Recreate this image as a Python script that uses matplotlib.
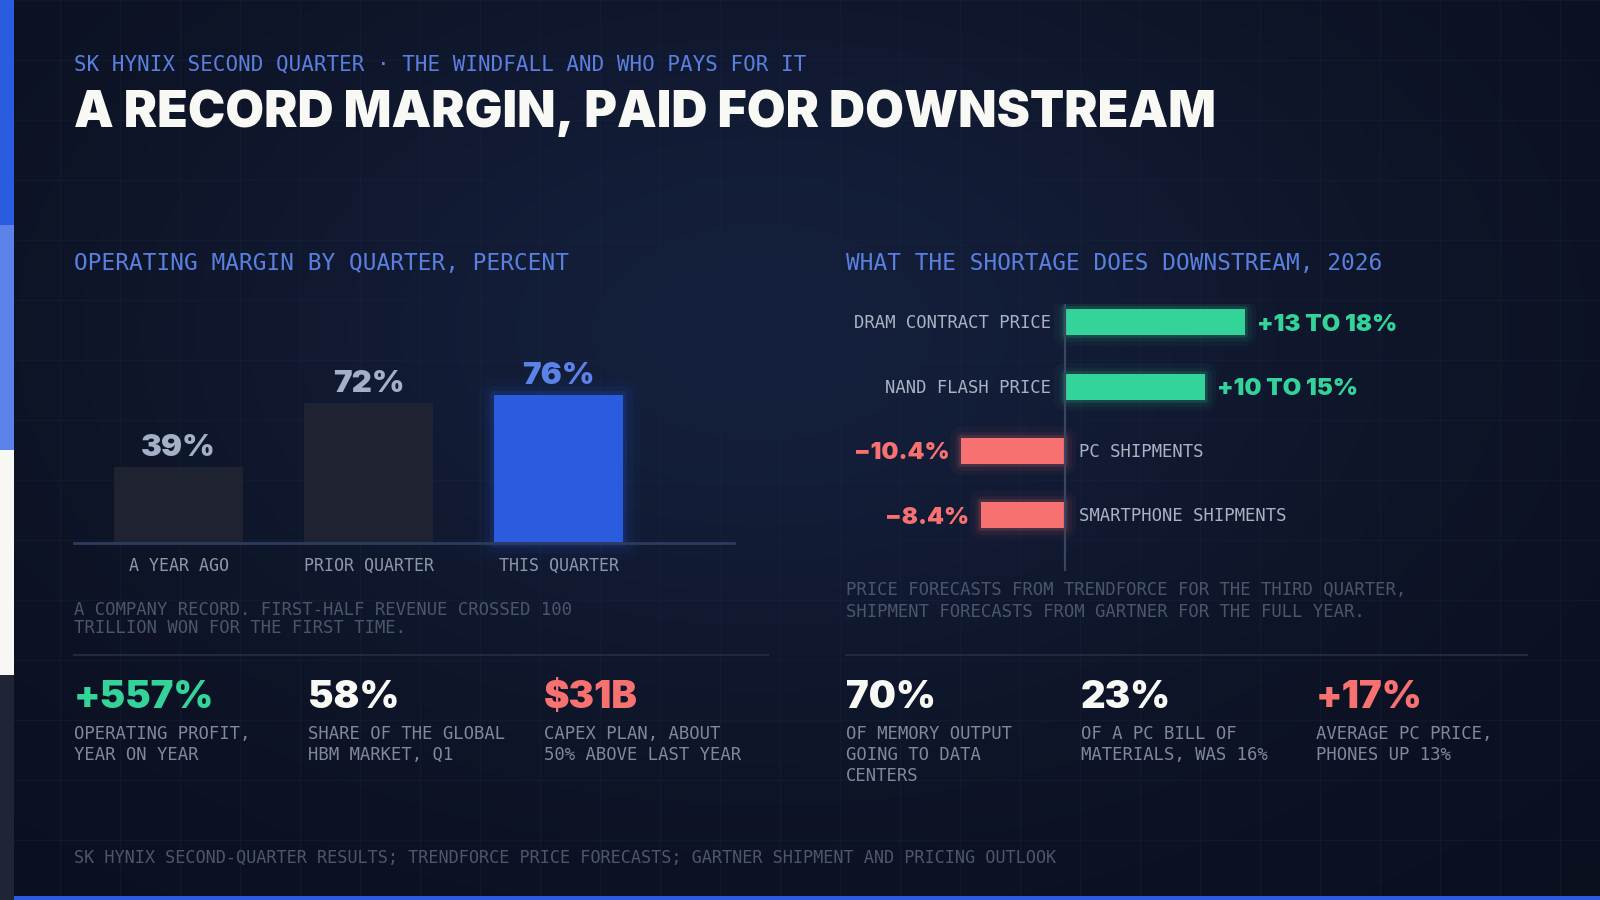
import matplotlib
matplotlib.use('Agg')
import matplotlib.pyplot as plt
import matplotlib.patheffects as pe
from matplotlib.patches import Rectangle
import numpy as np

# Canvas is laid out in pixels (1600 x 900)
W, H = 1600, 900
MONO = ['DejaVu Sans Mono']
HEAVY = ['Inter', 'DejaVu Sans']

# Data
quarters = ['A YEAR AGO', 'PRIOR QUARTER', 'THIS QUARTER']
margin_pct = [39, 72, 76]
margin_labels = ['39%', '72%', '76%']

items = ['DRAM CONTRACT PRICE', 'NAND FLASH PRICE', 'PC SHIPMENTS', 'SMARTPHONE SHIPMENTS']
item_values = [18, 14, -10.4, -8.4]
item_labels = ['+13 TO 18%', '+10 TO 15%', '\u221210.4%', '\u22128.4%']

stat_values = ['+557%', '58%', '$31B', '70%', '23%', '+17%']
stat_captions = [
    ['OPERATING PROFIT,', 'YEAR ON YEAR'],
    ['SHARE OF THE GLOBAL', 'HBM MARKET, Q1'],
    ['CAPEX PLAN, ABOUT', '50% ABOVE LAST YEAR'],
    ['OF MEMORY OUTPUT', 'GOING TO DATA', 'CENTERS'],
    ['OF A PC BILL OF', 'MATERIALS, WAS 16%'],
    ['AVERAGE PC PRICE,', 'PHONES UP 13%'],
]

# Colours
BLUE = '#2b5ce0'
BLUE_LIGHT = '#5b82e8'
ACCENT = '#5a7fdf'
GREEN = '#34d399'
RED = '#f87171'
WHITE = '#f8f8f4'
BAR_DARK = '#1e2231'
stat_colors = [GREEN, WHITE, RED, WHITE, WHITE, RED]

SMALL = 12.4  # small mono text, pt


def px_axes(fig, x0, y0, x1, y1):
    """Axes placed by pixel box (top-left origin)."""
    return fig.add_axes([x0 / W, 1 - y1 / H, (x1 - x0) / W, (y1 - y0) / H])


fig = plt.figure(figsize=(16, 9), dpi=100)

# Background layer
bg = fig.add_axes([0, 0, 1, 1])
bg.set_xlim(0, W)
bg.set_ylim(H, 0)
bg.axis('off')

yy, xx = np.mgrid[0:H:4, 0:W:4]
dark = np.array([0x0b, 0x10, 0x1f]) / 255
light = np.array([0x14, 0x1f, 0x3b]) / 255
d2 = ((xx - 760) / 820.0) ** 2 + ((yy - 330) / 520.0) ** 2
w = np.exp(-d2 * 1.6)[..., None]
grad = dark + (light - dark) * w
bg.imshow(grad, extent=(0, W, H, 0), aspect='auto', zorder=0)

for gx in range(0, W + 1, 60):
    bg.axvline(gx, color='#1b2640', lw=1, alpha=0.35, zorder=1)
for gy in range(0, H + 1, 60):
    bg.axhline(gy, color='#1b2640', lw=1, alpha=0.35, zorder=1)

# Left colour strip and bottom rule
strip_colors = [BLUE, BLUE_LIGHT, '#f7f7f3', '#1f2535']
for i, c in enumerate(strip_colors):
    bg.add_patch(Rectangle((0, i * 225), 14, 225, color=c, lw=0, zorder=2))
bg.add_patch(Rectangle((14, 896), W - 14, 4, color=BLUE, lw=0, zorder=2))


def txt(x, y, s, size, color, family=MONO, weight='normal', **kw):
    return bg.text(x, y, s, fontsize=size, color=color, family=family,
                   weight=weight, va='baseline', ha='left', zorder=5, **kw)


# Header
txt(74, 70.5, 'SK HYNIX SECOND QUARTER \u00b7 THE WINDFALL AND WHO PAYS FOR IT', 15.0, ACCENT)
txt(74, 127, 'A RECORD MARGIN, PAID FOR DOWNSTREAM', 36.0, WHITE, family=HEAVY, weight='black')

txt(74, 270, 'OPERATING MARGIN BY QUARTER, PERCENT', 16.4, ACCENT)
txt(846, 270, 'WHAT THE SHORTAGE DOES DOWNSTREAM, 2026', 16.4, ACCENT)

# Left chart: operating margin bars
ax = px_axes(fig, 73.5, 300, 733.7, 542.9)
ax.patch.set_alpha(0)
x = np.arange(len(quarters))
bars = ax.bar(x, margin_pct, width=0.682, color=[BAR_DARK, BAR_DARK, BLUE], lw=0, zorder=3)
for b in bars:
    b.set_clip_on(False)
bars[2].set_path_effects([
    pe.Stroke(linewidth=24, foreground=BLUE, alpha=0.04, joinstyle='round'),
    pe.Stroke(linewidth=14, foreground=BLUE, alpha=0.07, joinstyle='round'),
    pe.Stroke(linewidth=6, foreground=BLUE, alpha=0.15, joinstyle='round'),
    pe.Normal(),
])
ax.set_xlim(-0.553, 2.922)
ax.set_ylim(0, 125.2)
ax.axhline(0, color='#2d3b5e', lw=2, zorder=4, clip_on=False)
label_colors = ['#a3b0c8', '#a3b0c8', BLUE_LIGHT]
for xi, v, lab, c in zip(x, margin_pct, margin_labels, label_colors):
    ax.annotate(lab, (xi, v), xytext=(0, 11), textcoords='offset pixels',
                ha='center', va='baseline', fontsize=22.5, color=c,
                family=HEAVY, weight='black', annotation_clip=False)
ax.set_xticks(x, quarters)
ax.tick_params(axis='x', length=0, pad=10, labelsize=12.0, labelcolor='#8e98ab')
for t in ax.get_xticklabels():
    t.set_family(MONO)
ax.set_yticks([])
for s in ax.spines.values():
    s.set_visible(False)

txt(74, 615, 'A COMPANY RECORD. FIRST-HALF REVENUE CROSSED 100', SMALL, '#4b566d')
txt(74, 633, 'TRILLION WON FOR THE FIRST TIME.', SMALL, '#4b566d')

# Right chart: downstream effects
ax2 = px_axes(fig, 846, 304, 1527, 571.4)
ax2.patch.set_alpha(0)
rows = np.arange(len(items))
colors = [GREEN if v > 0 else RED for v in item_values]
hb = ax2.barh(rows, item_values, height=0.405, color=colors, lw=0, zorder=3)
for b, c in zip(hb, colors):
    b.set_path_effects([
        pe.Stroke(linewidth=16, foreground=c, alpha=0.04, joinstyle='round'),
        pe.Stroke(linewidth=9, foreground=c, alpha=0.07, joinstyle='round'),
        pe.Stroke(linewidth=4, foreground=c, alpha=0.15, joinstyle='round'),
        pe.Normal(),
    ])
ax2.set_xlim(-21.93, 46.17)
ax2.set_ylim(3.878, -0.287)
ax2.axvline(0, color='#3a4562', lw=1.6, zorder=4)
for r, v, name, lab, c in zip(rows, item_values, items, item_labels, colors):
    side = 1 if v > 0 else -1
    ax2.annotate(name, (0, r), xytext=(-14 * side, -6), textcoords='offset pixels',
                 ha='right' if v > 0 else 'left', va='baseline', fontsize=SMALL,
                 color='#aab2c4', family=MONO, annotation_clip=False)
    ax2.annotate(lab, (v, r), xytext=(12 * side, -8.5), textcoords='offset pixels',
                 ha='left' if v > 0 else 'right', va='baseline', fontsize=17.3,
                 color=c, family=HEAVY, weight='black', annotation_clip=False)
ax2.set_xticks([])
ax2.set_yticks([])
for s in ax2.spines.values():
    s.set_visible(False)

txt(846, 595, 'PRICE FORECASTS FROM TRENDFORCE FOR THE THIRD QUARTER,', SMALL, '#4b566d')
txt(846, 617, 'SHIPMENT FORECASTS FROM GARTNER FOR THE FULL YEAR.', SMALL, '#4b566d')

# Dividers
bg.plot([74, 768], [655, 655], color='#1f2a40', lw=1.5, zorder=3)
bg.plot([846, 1527], [655, 655], color='#1f2a40', lw=1.5, zorder=3)

# Stat row
stat_x = [73.5 + 235 * k for k in range(3)] + [846 + 235 * k for k in range(3)]
for sx, val, cap, c in zip(stat_x, stat_values, stat_captions, stat_colors):
    txt(sx, 708.3, val, 27.6, c, family=HEAVY, weight='black', parse_math=False)
    for j, line in enumerate(cap):
        txt(sx, 739.2 + 20.9 * j, line, SMALL, '#7f889c')

# Footer
txt(74, 863.3, 'SK HYNIX SECOND-QUARTER RESULTS; TRENDFORCE PRICE FORECASTS; '
    'GARTNER SHIPMENT AND PRICING OUTLOOK', 12.2, '#4d566b')

fig.savefig('out.png', dpi=100)
plt.close(fig)
